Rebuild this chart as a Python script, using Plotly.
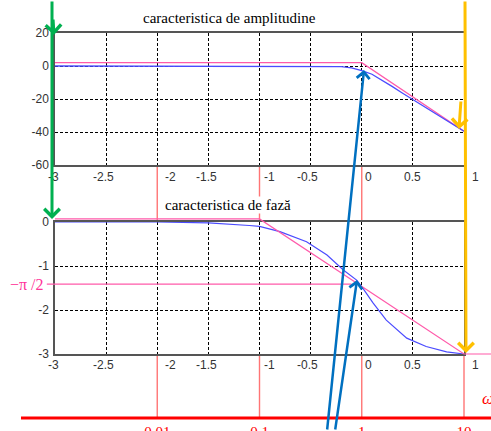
import numpy as np
import plotly.graph_objects as go

# ---------------- data ----------------
# x axis: log10(omega)
x_ticks = [-3, -2.5, -2, -1.5, -1, -0.5, 0, 0.5, 1]
x_tick_labels = ["-3", "-2.5", "-2", "-1.5", "-1", "-0.5", "0", "0.5", "1"]
amp_ticks = [-60, -40, -20, 0, 20]
amp_tick_labels = ["-60", "-40", "-20", "0", "20"]
phase_ticks = [-3, -2, -1, 0]
phase_tick_labels = ["-3", "-2", "-1", "0"]

# amplitude characteristic (dB)
amp_x = [-3, -2, -1, -0.5, -0.3, -0.2, -0.1, 0, 0.1, 0.2, 0.3, 0.4, 0.5, 0.6, 0.7, 0.8, 0.9, 1.0]
amp_y = [0, 0, 0, 0, -0.1, -0.4, -1.1, -2.8, -5.0, -8.5, -12.5, -16.5, -20.3, -24.0, -27.6, -31.5, -35.5, -39.5]
amp_asym_x = [-3, 0, 1]
amp_asym_y = [2, 2, -39.5]

# phase characteristic (rad)
ph_x = [-3, -2, -1.5, -1.25, -1.1, -1, -0.8, -0.54, -0.34, -0.18, -0.05, 0, 0.11, 0.24, 0.44, 0.63, 0.83, 1.0]
ph_y = [0, 0, -0.02, -0.05, -0.08, -0.1, -0.22, -0.45, -0.75, -1.09, -1.32, -1.47, -1.84, -2.23, -2.64, -2.83, -2.95, -3.0]
ph_asym_x = [-3, -1, 1, 1.27]
ph_asym_y = [0.07, 0.07, -3, -3]
half_pi_x = [-3.08, -0.1]
half_pi_y = [-1.41, -1.41]

# omega axis (log scale labels)
omega_vals = [0.01, 0.1, 1, 10]
omega_labels = ["0.01", "0.1", "1", "10"]

# ---------------- layout helpers ----------------
W, H = 491, 431
XL, XR = 55, 464          # pixel x of -3 and 1
A_TOP, A_BOT = 33, 165    # amplitude plot pixel top/bottom
P_TOP, P_BOT = 222, 354   # phase plot pixel top/bottom
pxu = (XR - XL) / 4.0
phu = (P_BOT - P_TOP) / 3.0

def fy(p):
    return 1 - p / H

def ph_of_px(p):  # pixel row -> phase-overlay units
    return -(p - P_TOP) / phu

def lx_of_px(p):  # pixel column -> log-omega units
    return -3 + (p - XL) / pxu

fig = go.Figure()

PINK = "#FF5AAA"
BLUE = "#4B4BFF"
RED = "#FF0000"
LRED = "#FF7575"
GREEN = "#00B050"
YEL = "#FFC000"
ABLUE = "#0070C0"
SERIF = "Liberation Serif, Times New Roman"

# amplitude traces (main top axes)
fig.add_trace(go.Scatter(x=amp_asym_x, y=amp_asym_y, mode="lines",
                         line=dict(color=PINK, width=1.3), xaxis="x", yaxis="y", hoverinfo="skip"))
fig.add_trace(go.Scatter(x=amp_x, y=amp_y, mode="lines",
                         line=dict(color=BLUE, width=1.3), xaxis="x", yaxis="y", hoverinfo="skip"))
# phase traces (main bottom axes)
fig.add_trace(go.Scatter(x=ph_x, y=ph_y, mode="lines",
                         line=dict(color=BLUE, width=1.2), xaxis="x2", yaxis="y2", hoverinfo="skip"))
# phase asymptote and -pi/2 line on full-figure overlay with same scale
fig.add_trace(go.Scatter(x=ph_asym_x, y=ph_asym_y, mode="lines",
                         line=dict(color=PINK, width=1.2), xaxis="x3", yaxis="y3", hoverinfo="skip"))
fig.add_trace(go.Scatter(x=half_pi_x, y=half_pi_y, mode="lines",
                         line=dict(color=PINK, width=1.2), xaxis="x3", yaxis="y3", hoverinfo="skip"))
# omega labels (text trace: may be cut by the page edge without pushing margins)
fig.add_trace(go.Scatter(x=[float(np.log10(w)) for w in omega_vals],
                         y=[ph_of_px(426)] * len(omega_vals), mode="text", text=omega_labels,
                         textposition="bottom center", cliponaxis=False,
                         textfont=dict(family=SERIF, size=15, color=RED),
                         xaxis="x3", yaxis="y3", hoverinfo="skip"))
fig.add_trace(go.Scatter(x=[lx_of_px(482)], y=[ph_of_px(400)], mode="text", text=["<i>ω</i>"],
                         textposition="middle right", cliponaxis=False,
                         textfont=dict(family=SERIF, size=17, color=RED),
                         xaxis="x3", yaxis="y3", hoverinfo="skip"))
# empty trace for pixel overlay
fig.add_trace(go.Scatter(x=[None], y=[None], xaxis="x5", yaxis="y5", hoverinfo="skip"))

grid = dict(showgrid=True, gridcolor="#000000", griddash="3px,2px", gridwidth=1,
            zeroline=False, showline=True, linecolor="#555555", linewidth=1.5, mirror=True,
            ticks="", automargin=False)
tickfont = dict(family="Liberation Sans, Arial", size=12, color="#333333")
hidden = dict(visible=False, fixedrange=True, automargin=False, domain=[0, 1])

layout = dict(
    width=W, height=H, margin=dict(l=0, r=0, t=0, b=0, pad=0, autoexpand=False),
    paper_bgcolor="white", plot_bgcolor="rgba(0,0,0,0)", showlegend=False,
    xaxis=dict(domain=[XL / W, XR / W], range=[-3, 1], tickvals=x_ticks, showticklabels=False,
               anchor="y", **grid),
    yaxis=dict(domain=[fy(A_BOT), fy(A_TOP)], range=[-60, 20], tickvals=amp_ticks,
               ticktext=amp_tick_labels, tickfont=tickfont, anchor="x", ticklabelstandoff=2, **grid),
    xaxis2=dict(domain=[XL / W, XR / W], range=[-3, 1], tickvals=x_ticks, showticklabels=False,
                anchor="y2", **grid),
    yaxis2=dict(domain=[fy(P_BOT), fy(P_TOP)], range=[-3, 0], tickvals=phase_ticks,
                ticktext=phase_tick_labels, tickfont=tickfont, anchor="x2", ticklabelstandoff=2, **grid),
    xaxis3=dict(range=[lx_of_px(0), lx_of_px(W)], anchor="y3", **hidden),
    yaxis3=dict(range=[ph_of_px(H), ph_of_px(0)], anchor="x3", **hidden),
    xaxis5=dict(range=[0, W], anchor="y5", **hidden),
    yaxis5=dict(range=[H, 0], anchor="x5", **hidden),
)
fig.update_layout(**layout)

shapes = []
# red omega axis
shapes.append(dict(type="line", xref="x5", yref="y5", x0=21, x1=W, y0=418, y1=418,
                   line=dict(color=RED, width=3)))
for w in omega_vals:
    lx = float(np.log10(w))
    if lx < 1:
        shapes.append(dict(type="line", xref="x3", yref="y5", x0=lx, x1=lx, y0=A_BOT, y1=P_TOP,
                           line=dict(color=LRED, width=1.4), layer="below"))
    shapes.append(dict(type="line", xref="x3", yref="y5", x0=lx, x1=lx, y0=P_BOT, y1=417,
                       line=dict(color=LRED, width=1.4), layer="below"))
fig.update_layout(shapes=shapes)

ann = []
# titles
ann.append(dict(xref="x5", yref="y5", x=229, y=18, text="caracteristica de amplitudine",
                showarrow=False, font=dict(family=SERIF, size=15, color="black")))
ann.append(dict(xref="x5", yref="y5", x=228, y=205, text="caracteristica de fază",
                showarrow=False, bgcolor="white", borderpad=0,
                font=dict(family=SERIF, size=15, color="black")))
# x tick labels (nudged like the reference)
nudge = [-2, -3, 13, -2, 10, -3, 7, 0, 11]
for v, t, n in zip(x_ticks, x_tick_labels, nudge):
    for yy in (177, 365):
        ann.append(dict(xref="x3", yref="y5", x=v, y=yy, xshift=n, text=t, showarrow=False,
                        font=tickfont))
# -pi/2 label
ann.append(dict(xref="x5", yref="y5", x=27, y=284, text="−π /2", showarrow=False,
                font=dict(family=SERIF, size=16, color="#FF3399")))

def arrow(tip, tail, color, width=3, size=0.7, head=4):
    return dict(xref="x5", yref="y5", axref="x5", ayref="y5", x=tip[0], y=tip[1],
                ax=tail[0], ay=tail[1], text="", showarrow=True, arrowhead=head,
                arrowsize=size, arrowwidth=width, arrowcolor=color, standoff=0)

# green arrows
ann.append(arrow((52, 219), (52, 0), GREEN, 3, 1.0))
ann.append(arrow((54, 35), (53, 18), GREEN, 3, 1.0))
# yellow arrows
ann.append(arrow((466, 353), (465, 0), YEL, 3, 1.0))
ann.append(arrow((459, 129), (461, 100), YEL, 3, 1.0))
# blue arrows
ann.append(arrow((364, 70), (327, 431), ABLUE, 2.5, 1.0))
ann.append(arrow((357, 280), (335, 431), ABLUE, 2.5, 1.0))
fig.update_layout(annotations=ann)

fig.write_html(
    "out.html",
    config={"displayModeBar": False},
    post_script="document.body.style.margin='0px';document.body.style.overflow='hidden';",
)
